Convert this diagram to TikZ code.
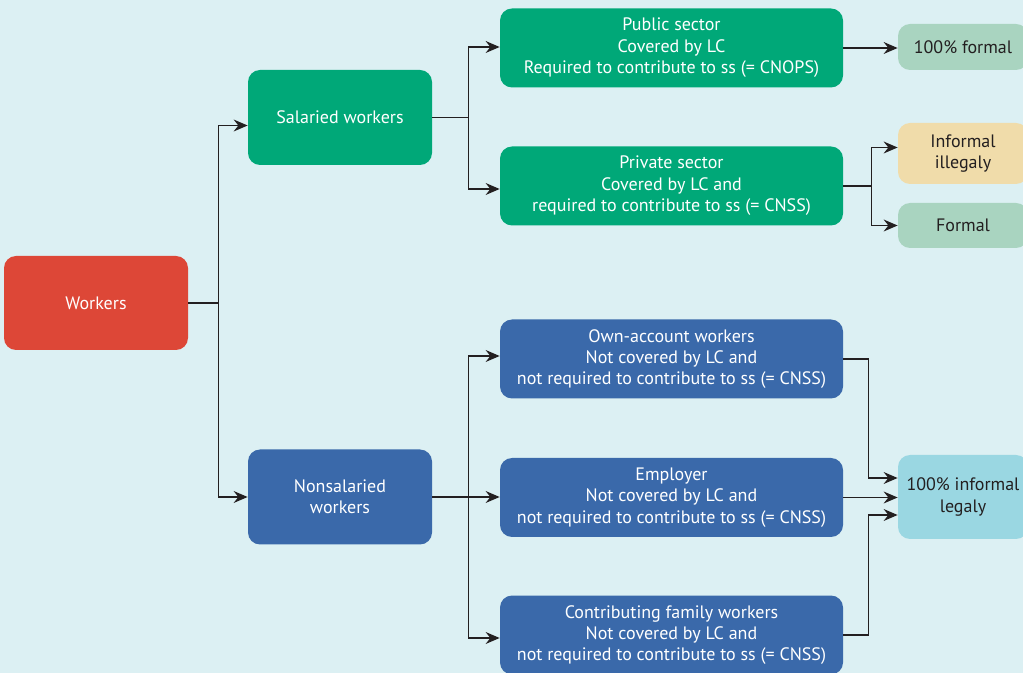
\documentclass[tikz,border=0pt]{standalone}
\usepackage{fontspec}
\setmainfont{PT Sans}
\usetikzlibrary{arrows.meta}
\definecolor{bgcol}{HTML}{DCF0F3}
\definecolor{redbox}{HTML}{DD4737}
\definecolor{greenbox}{HTML}{00A878}
\definecolor{bluebox}{HTML}{3A69AA}
\definecolor{mintbox}{HTML}{A9D4C0}
\definecolor{tanbox}{HTML}{F0DCAA}
\definecolor{cyanbox}{HTML}{9AD7E2}
\definecolor{inkcol}{HTML}{231F20}
\begin{document}
\begin{tikzpicture}[
    x=0.5pt, y=-0.5pt,
    font=\fontsize{9}{10.7}\selectfont,
    box/.style={rounded corners=6pt, align=center, inner sep=2pt, text=white},
    root/.style={box, fill=redbox, minimum width=92pt, minimum height=47pt},
    sal/.style={box, fill=greenbox, minimum width=92pt, minimum height=47.5pt},
    nsal/.style={box, fill=bluebox, minimum width=92pt, minimum height=47.5pt},
    salsub/.style={box, fill=greenbox, minimum width=171.5pt, minimum height=39.5pt},
    nsalsub/.style={box, fill=bluebox, minimum width=171.5pt, minimum height=39.5pt},
    res/.style={box, text=inkcol, minimum width=65pt},
    arr/.style={-{Stealth[length=7pt, width=6pt, inset=2.4pt]}, line width=0.6pt, inkcol},
  ]
  \fill[bgcol] (0,0) rectangle (1023,673);
  \clip (0,0) rectangle (1023,673);
  % left column
  \node[root] (workers) at (96,303) {Workers};
  \node[sal] (salaried) at (340,117.5) {Salaried workers};
  \node[nsal] (nonsal) at (340,497) {Nonsalaried\\workers};
  % middle column
  \node[salsub] (public) at (671.5,48) {Public sector\\Covered by LC\\Required to contribute to ss (= CNOPS)};
  \node[salsub] (private) at (671.5,186) {Private sector\\Covered by LC and\\required to contribute to ss (= CNSS)};
  \node[nsalsub] (own) at (671.5,359) {Own-account workers\\Not covered by LC and\\not required to contribute to ss (= CNSS)};
  \node[nsalsub] (employer) at (671.5,497.5) {Employer\\Not covered by LC and\\not required to contribute to ss (= CNSS)};
  \node[nsalsub] (family) at (671.5,635) {Contributing family workers\\Not covered by LC and\\not required to contribute to ss (= CNSS)};
  % right column
  \node[res, fill=mintbox, minimum height=23pt] (formal100) at (963,47) {100\% formal};
  \node[res, fill=tanbox, minimum height=30.5pt] (illegal) at (963,153.5) {Informal\\illegaly};
  \node[res, fill=mintbox, minimum height=22.5pt] (formal) at (963,225.5) {Formal};
  \node[res, fill=cyanbox, minimum height=42pt] (informal100) at (963,497) {100\% informal\\legaly};
  % connectors
  \draw[arr] (workers.east) -- ++(30,0) |- ([yshift=-4pt]salaried.west);
  \draw[arr] (workers.east) -- ++(30,0) |- (nonsal.west);
  \draw[arr] (salaried.east) -- ++(36,0) |- ([yshift=0.5pt]public.west);
  \draw[arr] (salaried.east) -- ++(36,0) |- ([yshift=-1.5pt]private.west);
  \draw[arr] (nonsal.east) -- ++(36,0) |- ([yshift=1.5pt]own.west);
  \draw[arr] (nonsal.east) -- (nonsal.east -| employer.west);
  \draw[arr] (nonsal.east) -- ++(36,0) |- ([yshift=-1.5pt]family.west);
  \draw[arr] (public.east) -- (public.east -| formal100.west);
  \draw[arr] (private.east) -- ++(28,0) |- ([yshift=3pt]illegal.west);
  \draw[arr] (private.east) -- ++(28,0) |- (formal.west);
  \draw[arr] (own.east) -- ++(25,0) |- ([yshift=9.5pt]informal100.west);
  \draw[arr] (employer.east) -- (employer.east -| informal100.west);
  \draw[arr] (family.east) -- ++(25,0) |- ([yshift=-9pt]informal100.west);
\end{tikzpicture}
\end{document}
